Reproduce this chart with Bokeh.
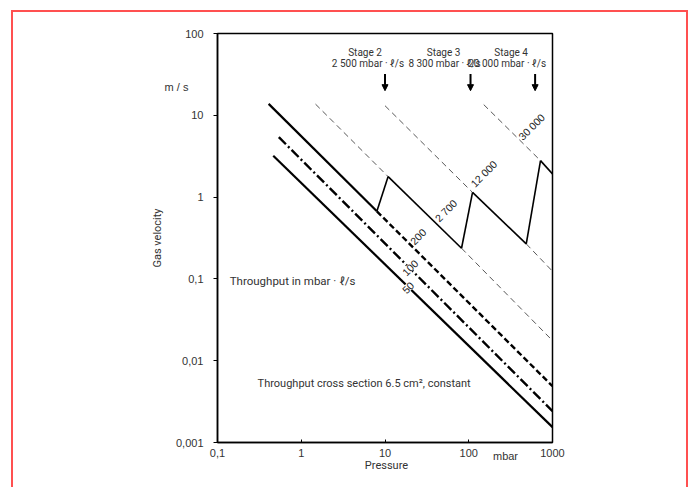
import math
from bokeh.plotting import figure
from bokeh.models import Range1d, FixedTicker, Label, Arrow, NormalHead
from bokeh.embed import file_html
from bokeh.resources import INLINE

# ---- data (pressure in mbar, gas velocity in m/s) ----
x_ticks = [0.1, 1, 10, 100, 1000]
x_tick_labels = ["0,1", "1", "10", "100", "1000"]
y_ticks = [0.001, 0.01, 0.1, 1, 10, 100]
y_tick_labels = ["0,001", "0,01", "0,1", "1", "10", "100"]

# throughput 50 mbar·l/s (solid)
q50_p = [0.463, 1000]
q50_v = [3.2, 0.00154]
# throughput 100 (dash-dot)
q100_p = [0.54, 1000]
q100_v = [5.4, 0.00242]
# throughput 200 (solid, then dashed)
q200_solid_p = [0.408, 8.0]
q200_solid_v = [13.8, 0.67]
q200_dash_p = [8.0, 1000]
q200_dash_v = [0.67, 0.00488]
# throughput 2 700
q2700_a_p = [1.48, 10.9]
q2700_a_v = [13.7, 1.78]
q2700_s_p = [10.9, 82]
q2700_s_v = [1.78, 0.237]
q2700_b_p = [82, 1000]
q2700_b_v = [0.237, 0.0176]
# throughput 12 000
q12000_a_p = [10.0, 111]
q12000_a_v = [13.1, 1.14]
q12000_s_p = [111, 486]
q12000_s_v = [1.14, 0.268]
q12000_b_p = [486, 1000]
q12000_b_v = [0.268, 0.124]
# throughput 30 000
q30000_a_p = [151, 719]
q30000_a_v = [13.5, 2.79]
q30000_s_p = [719, 1000]
q30000_s_v = [2.79, 1.92]
# stage jumps
jump1_p = [8.0, 10.9]
jump1_v = [0.67, 1.78]
jump2_p = [82, 111]
jump2_v = [0.237, 1.14]
jump3_p = [486, 719]
jump3_v = [0.268, 2.79]

stage_p = [10.0, 105, 620]
stage_names = ["Stage 2", "Stage 3", "Stage 4"]
stage_throughput = ["2 500 mbar · ℓ/s", "8 300 mbar · ℓ/s", "20 000 mbar · ℓ/s"]

line_labels = ["50", "100", "200", "2 700", "12 000", "30 000"]
line_label_p = [18.8, 19.9, 24.8, 53.3, 151, 562]
line_label_v = [0.0783, 0.137, 0.329, 0.683, 1.93, 7.24]

# layout-only offsets (pixels)
stage_name_dx = [-20, -27, -24]
stage_q_dx = [-17, -26, -28]
label_bg = ["white", "white", None, None, None, None]

TXT = "Roboto"
TICK = "'Liberation Sans'"
GREY = "#333333"

p = figure(width=677, height=477, x_axis_type="log", y_axis_type="log",
           x_range=Range1d(0.1, 1000), y_range=Range1d(0.001, 100),
           output_backend="svg", toolbar_location=None,
           min_border_left=204, min_border_right=138,
           min_border_top=21, min_border_bottom=47)
p.margin = (10, 0, 0, 11)
p.styles = {"border-top": "2px solid #ff5050", "border-left": "2px solid #ff5050",
            "border-right": "2px solid #ff5050"}
p.grid.visible = False
p.outline_line_color = "black"
p.outline_line_width = 1.5
p.background_fill_color = "white"
p.border_fill_color = "white"

p.xaxis.ticker = FixedTicker(ticks=x_ticks)
p.xaxis.major_label_overrides = {t: l for t, l in zip(x_ticks, x_tick_labels)}
p.yaxis.ticker = FixedTicker(ticks=y_ticks)
p.yaxis.major_label_overrides = {t: l for t, l in zip(y_ticks, y_tick_labels)}
for ax in (p.xaxis, p.yaxis):
    ax.axis_line_color = "black"
    ax.axis_line_width = 1.5
    ax.minor_tick_line_color = None
    ax.major_tick_line_color = "black"
    ax.major_label_text_font = TICK
    ax.major_label_text_font_size = "11px"
    ax.major_label_text_color = GREY
p.xaxis.major_tick_in = 3
p.xaxis.major_tick_out = 0
p.xaxis.major_label_standoff = 6
p.yaxis.major_tick_in = 0
p.yaxis.major_tick_out = 4
p.yaxis.major_label_standoff = 10
p.yaxis.axis_label = "Gas velocity"
p.yaxis.axis_label_text_font = TXT
p.yaxis.axis_label_text_font_style = "normal"
p.yaxis.axis_label_text_font_size = "11px"
p.yaxis.axis_label_text_color = GREY
p.yaxis.axis_label_standoff = 9

# thick curves
p.line(q50_p, q50_v, line_color="black", line_width=2.2)
p.line(q100_p, q100_v, line_color="black", line_width=2.4, line_dash="10 3 2 3")
p.line(q200_solid_p, q200_solid_v, line_color="black", line_width=2.2)
p.line(q200_dash_p, q200_dash_v, line_color="black", line_width=2.4, line_dash="6 3")

thin = dict(line_color="#444444", line_width=0.9, line_dash="6 4")
solid = dict(line_color="black", line_width=1.6)
p.line(q2700_a_p, q2700_a_v, **thin)
p.line(q2700_s_p, q2700_s_v, **solid)
p.line(q2700_b_p, q2700_b_v, **thin)
p.line(q12000_a_p, q12000_a_v, **thin)
p.line(q12000_s_p, q12000_s_v, **solid)
p.line(q12000_b_p, q12000_b_v, **thin)
p.line(q30000_a_p, q30000_a_v, **thin)
p.line(q30000_s_p, q30000_s_v, **solid)
p.line(jump1_p, jump1_v, **solid)
p.line(jump2_p, jump2_v, **solid)
p.line(jump3_p, jump3_v, **solid)

# line labels
for t, x, y, bg in zip(line_labels, line_label_p, line_label_v, label_bg):
    p.add_layout(Label(x=x, y=y, text=t, angle=math.pi / 4, text_align="center",
                       text_baseline="middle", text_font=TICK, text_font_size="10.5px",
                       text_color="#222222", background_fill_color=bg))

# stage arrows and texts
for x, n, q, dn, dq in zip(stage_p, stage_names, stage_throughput, stage_name_dx, stage_q_dx):
    p.add_layout(Arrow(x_start=x, y_start=32, x_end=x, y_end=20, line_width=2,
                       end=NormalHead(size=6, fill_color="black", line_color="black")))
    p.add_layout(Label(x=x, y=58, text=n, text_align="center", text_baseline="middle",
                       text_font=TXT, text_font_size="10px", text_color=GREY,
                       x_offset=dn))
    p.add_layout(Label(x=x, y=42.6, text=q, text_align="center", text_baseline="middle",
                       text_font=TXT, text_font_size="10px", text_color=GREY,
                       x_offset=dq))

# other texts
p.add_layout(Label(x=0.14, y=0.0953, text="Throughput in mbar · ℓ/s", text_align="left",
                   text_baseline="middle", text_font=TXT, text_font_size="11.5px",
                   text_color=GREY))
p.add_layout(Label(x=0.301, y=0.00526, text="Throughput cross section 6.5 cm², constant",
                   text_align="left", text_baseline="middle", text_font=TXT,
                   text_font_size="11px", text_color=GREY))

# texts outside the frame: placed in the left side panel (not clipped to the frame)
p.add_layout(Label(x=53, y=356, x_units="screen", y_units="screen", text="m / s",
                   text_align="center", text_baseline="middle",
                   text_font=TICK, text_font_size="11px", text_color=GREY), "left")
p.add_layout(Label(x=306, y=-23, x_units="screen", y_units="screen", text="Pressure",
                   text_align="center", text_baseline="middle",
                   text_font=TXT, text_font_size="11px", text_color=GREY), "left")
p.add_layout(Label(x=450, y=-13, x_units="screen", y_units="screen", text="mbar",
                   text_align="center", text_baseline="middle",
                   text_font=TICK, text_font_size="11px", text_color=GREY), "left")

open("out.html", "w").write(file_html(p, INLINE))
